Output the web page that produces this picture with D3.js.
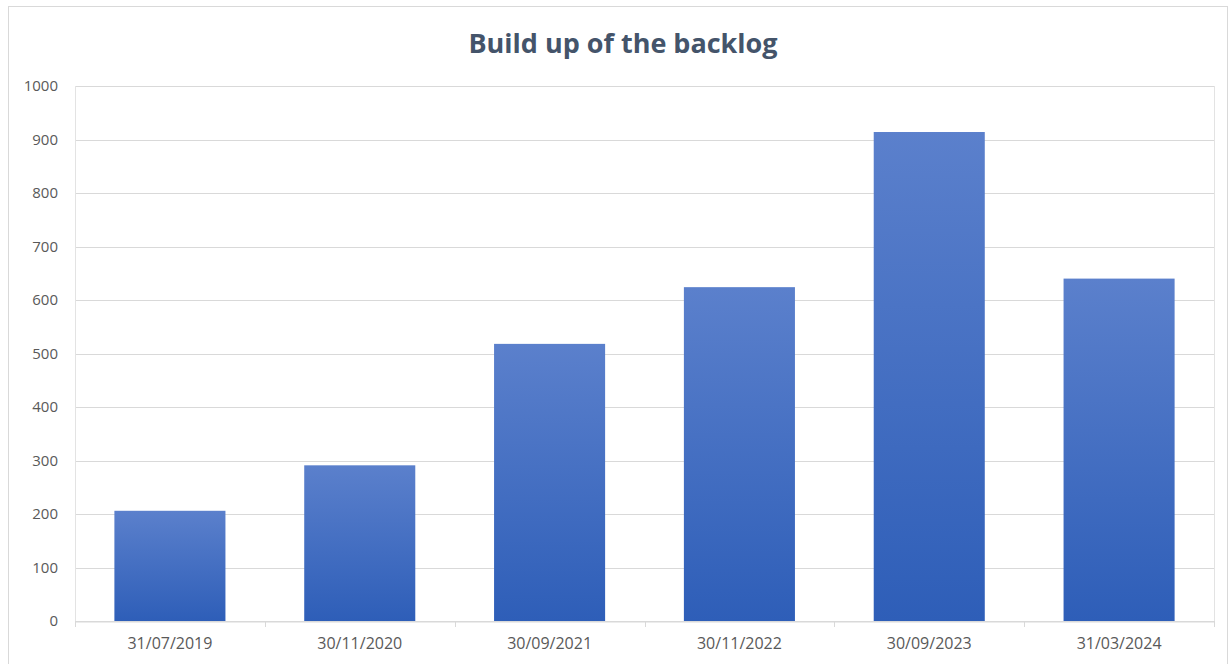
<!DOCTYPE html>
<html>
<head>
<meta charset="utf-8">
<script src="https://cdn.jsdelivr.net/npm/d3@7"></script>
<style>
  body { margin: 0; background: #fff; }
  svg { display: block; font-family: "Open Sans", "Noto Sans", sans-serif; }
</style>
</head>
<body>
<div id="chart"></div>
<script>
const categories = ["31/07/2019", "30/11/2020", "30/09/2021", "30/11/2022", "30/09/2023", "31/03/2024"];
const backlog = [206, 291, 518, 624, 914, 640];
const yTicks = [0, 100, 200, 300, 400, 500, 600, 700, 800, 900, 1000];

const width = 1231, height = 664;
const margin = { top: 86, right: 17, bottom: 43, left: 75 };
const labelFont = "'Open Sans', 'Noto Sans', sans-serif";

const svg = d3.select("#chart").append("svg")
    .attr("width", width)
    .attr("height", height);

// outer chart border
svg.append("rect")
    .attr("x", 8.5).attr("y", 6.5)
    .attr("width", width - 12).attr("height", height - 6)
    .attr("fill", "#fff")
    .attr("stroke", "#d9d9d9");

const defs = svg.append("defs");
const grad = defs.append("linearGradient")
    .attr("id", "barGrad")
    .attr("x1", 0).attr("y1", 0).attr("x2", 0).attr("y2", 1);
grad.append("stop").attr("offset", "0%").attr("stop-color", "#5b80cc");
grad.append("stop").attr("offset", "100%").attr("stop-color", "#2e5eb8");

const x = d3.scaleBand()
    .domain(categories)
    .range([margin.left, width - margin.right])
    .paddingInner(0.415)
    .paddingOuter(0.2075);

const y = d3.scaleLinear()
    .domain([0, 1000])
    .range([height - margin.bottom, margin.top]);

// gridlines
svg.append("g")
    .selectAll("line")
    .data(yTicks)
    .join("line")
    .attr("x1", margin.left).attr("x2", width - margin.right)
    .attr("y1", d => Math.round(y(d)) + 0.5)
    .attr("y2", d => Math.round(y(d)) + 0.5)
    .attr("stroke", "#d9d9d9");

// plot area side borders
svg.append("g")
    .selectAll("line")
    .data([margin.left, width - margin.right])
    .join("line")
    .attr("x1", d => d + 0.5).attr("x2", d => d + 0.5)
    .attr("y1", margin.top).attr("y2", height - margin.bottom)
    .attr("stroke", "#e3e3e3");

// bars
svg.append("g")
    .selectAll("rect")
    .data(categories)
    .join("rect")
    .attr("x", d => x(d))
    .attr("width", x.bandwidth())
    .attr("y", (d, i) => y(backlog[i]))
    .attr("height", (d, i) => y(0) - y(backlog[i]))
    .attr("fill", "url(#barGrad)");

// x axis
const xAxis = svg.append("g")
    .attr("transform", `translate(0,${Math.round(y(0)) + 0.5})`)
    .call(d3.axisBottom(x).tickSize(0).tickPadding(16))
    .attr("font-family", labelFont);
xAxis.select(".domain").attr("stroke", "#d9d9d9");
xAxis.selectAll("text")
    .attr("fill", "#595959")
    .attr("font-size", 16);

// category boundary ticks
const step = x.step();
const bounds = d3.range(categories.length + 1).map(i => margin.left + i * step);
svg.append("g")
    .selectAll("line")
    .data(bounds)
    .join("line")
    .attr("x1", d => Math.round(d) + 0.5).attr("x2", d => Math.round(d) + 0.5)
    .attr("y1", y(0)).attr("y2", y(0) + 6)
    .attr("stroke", "#d9d9d9");

// y axis labels
const yAxis = svg.append("g")
    .attr("transform", `translate(${margin.left},0)`)
    .call(d3.axisLeft(y).tickValues(yTicks).tickSize(0).tickPadding(17).tickFormat(d3.format("d")))
    .attr("font-family", labelFont);
yAxis.select(".domain").remove();
yAxis.selectAll("text")
    .attr("fill", "#595959")
    .attr("font-size", 15);

// title
svg.append("text")
    .attr("x", 623)
    .attr("y", 53)
    .attr("text-anchor", "middle")
    .attr("font-size", 27)
    .attr("font-weight", "bold")
    .attr("fill", "#44546a")
    .text("Build up of the backlog");
</script>
</body>
</html>
